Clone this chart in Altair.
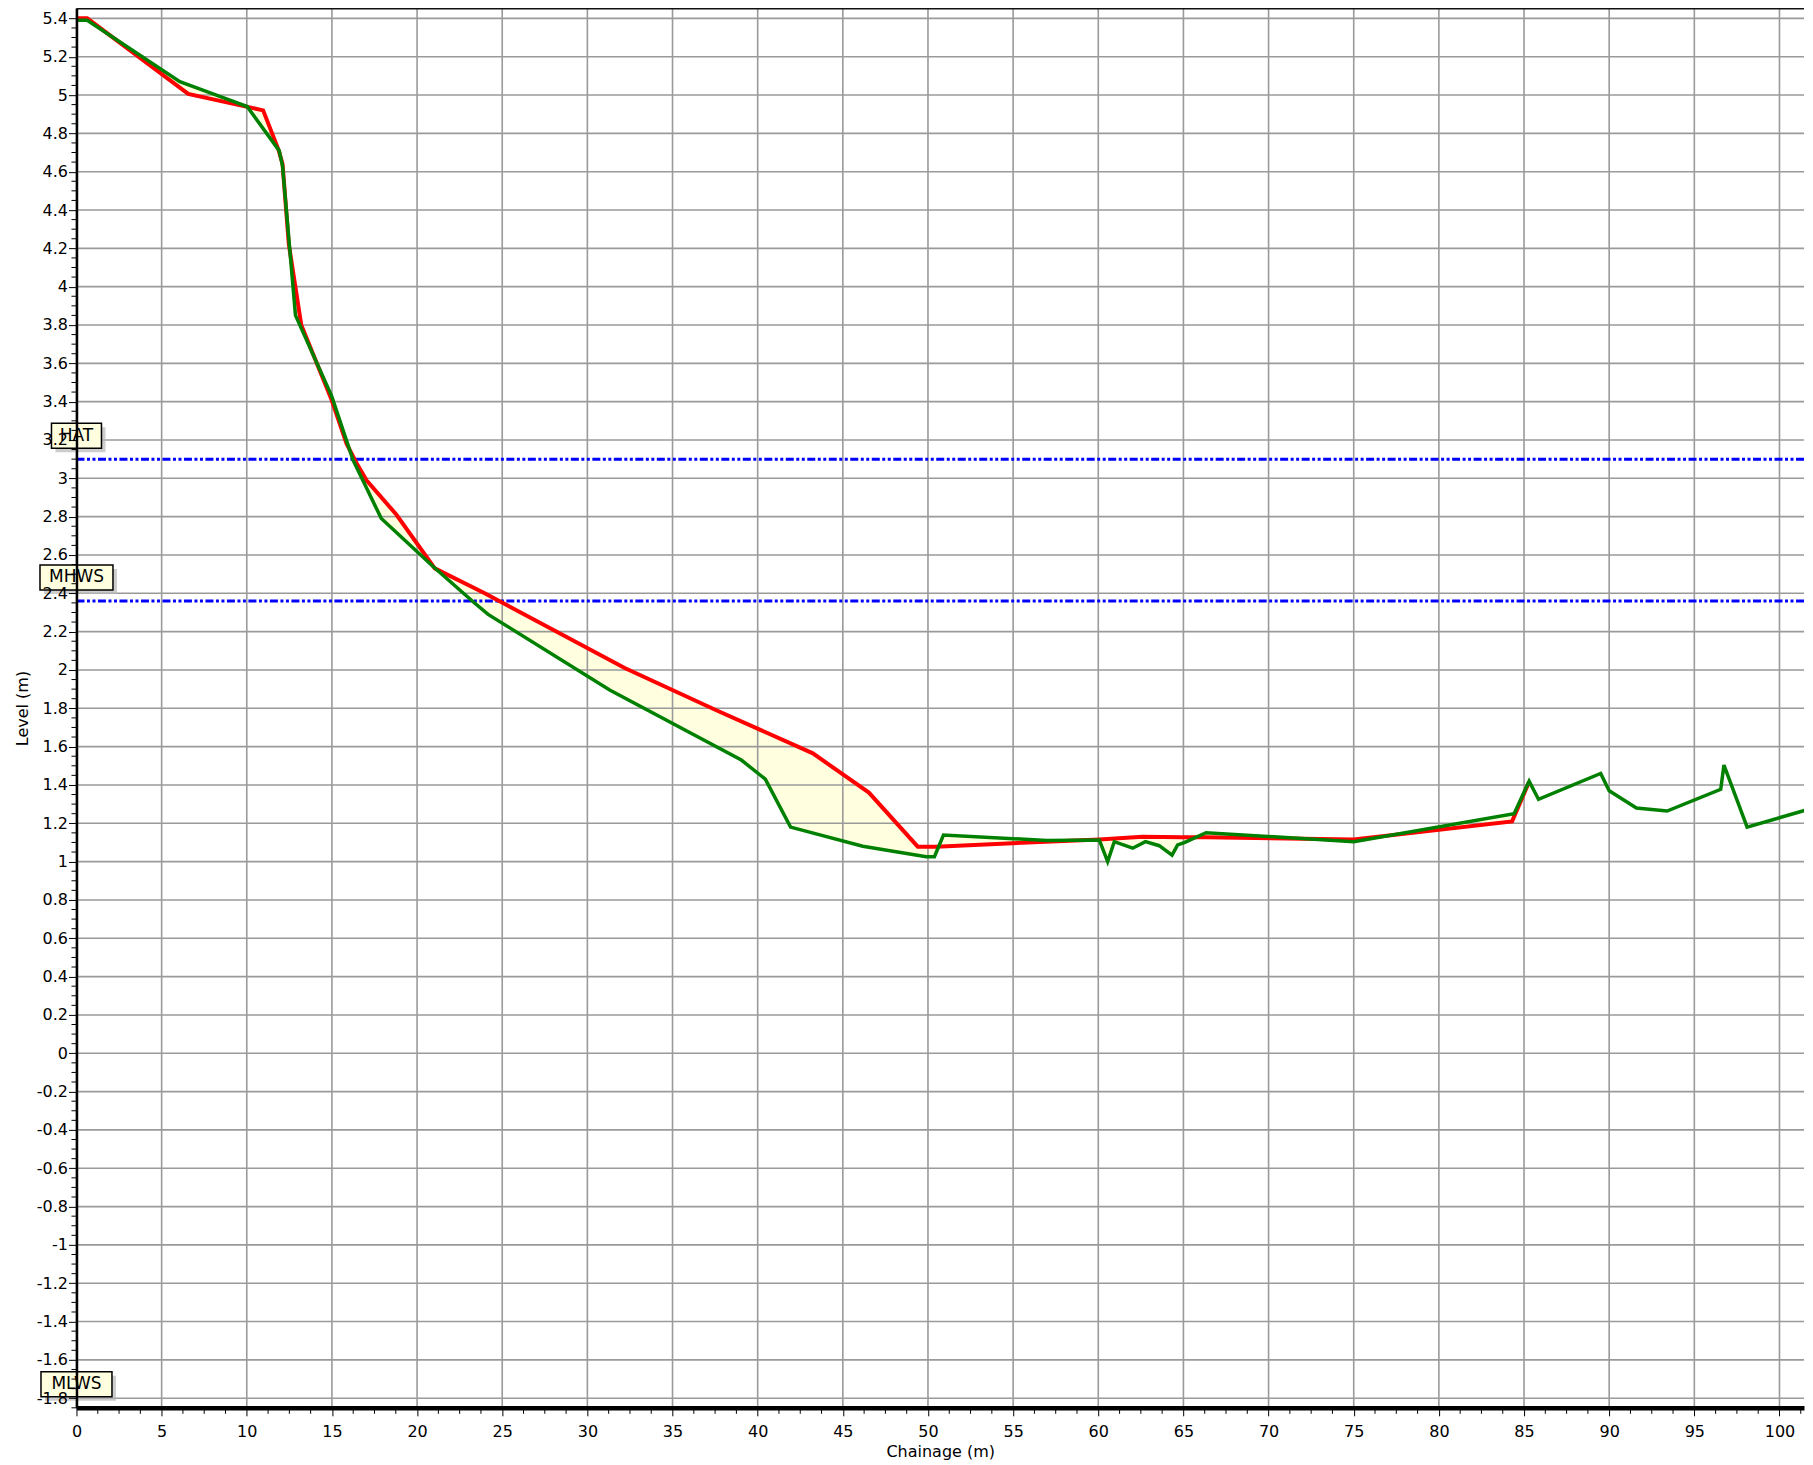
import altair as alt
import numpy as np
import pandas as pd

# ---------------- data ----------------
red_x = [0, 0.63, 6.56, 10.96, 11.88, 12.1, 12.47, 13.2, 14.98, 15.86, 16.44, 17.03,
         18.79, 21.04, 23.97, 32.19, 37.57, 43.24, 46.53, 49.4, 50.48, 60.06, 62.6,
         64.95, 66.33, 75.0, 84.3, 85.3]
red_y = [5.40, 5.40, 5.006, 4.92, 4.71, 4.64, 4.22, 3.80, 3.41, 3.18, 3.08, 2.99,
         2.81, 2.53, 2.40, 2.01, 1.79, 1.565, 1.36, 1.078, 1.078, 1.116, 1.13,
         1.127, 1.127, 1.116, 1.21, 1.417]

green_x = [0, 0.63, 6.07, 8.81, 10.02, 11.9, 12.1, 12.86, 14.98, 16.24, 17.9, 20.94,
           23.29, 24.17, 31.31, 39.04, 40.45, 41.93, 46.17, 49.9, 50.38, 50.91, 57.0,
           60.06, 60.55, 60.94, 62.02, 62.77, 63.58, 64.33, 64.66, 65.05, 66.33, 75.0,
           84.42, 85.3, 85.85, 89.5, 90.0, 91.6, 93.4, 96.55, 96.74, 98.1, 101.9]
green_y = [5.39, 5.39, 5.07, 4.98, 4.94, 4.71, 4.63, 3.85, 3.43, 3.095, 2.79, 2.54,
           2.356, 2.29, 1.895, 1.53, 1.43, 1.18, 1.08, 1.026, 1.026, 1.139, 1.11,
           1.113, 1.0, 1.104, 1.07, 1.104, 1.083, 1.034, 1.087, 1.099, 1.151, 1.104,
           1.25, 1.42, 1.325, 1.46, 1.37, 1.28, 1.264, 1.377, 1.504, 1.18, 1.278]

level_names = ["HAT", "MHWS", "MLWS"]
level_values = [3.1, 2.36, -1.85]

x_ticks = list(range(0, 101, 5))
y_ticks = [round(-1.8 + 0.2 * i, 1) for i in range(37)]
x_minor = [round(i * 1.25, 2) for i in range(82) if (i * 1.25) % 5 != 0]
y_minor = [round(-1.85 + 0.05 * i, 2) for i in range(146)]
y_minor = [v for v in y_minor if abs(round(v / 0.2) * 0.2 - v) > 1e-6]

# ---------------- layout ----------------
X_MIN, X_MAX = 0, 101.44
Y_MIN, Y_MAX = -1.85, 5.453
W, H = 1728, 1400
FONT = "DejaVu Sans"

xscale = alt.Scale(domain=[X_MIN, X_MAX], nice=False, zero=False)
yscale = alt.Scale(domain=[Y_MIN, Y_MAX], nice=False, zero=False)

red_df = pd.DataFrame({"x": red_x, "y": red_y})
green_df = pd.DataFrame({"x": green_x, "y": green_y})

# band between the two profiles (on the union of their chainages)
xs = sorted(set([v for v in red_x + green_x if v <= max(red_x)]))
band_df = pd.DataFrame({
    "x": xs,
    "top": np.interp(xs, red_x, red_y),
    "bot": np.interp(xs, green_x, green_y),
})

levels_df = pd.DataFrame({"name": level_names, "level": level_values,
                          "x0": [X_MIN] * 3, "x1": [X_MAX] * 3})

xax = alt.Axis(values=x_ticks, grid=False, domainColor="black", domainWidth=4.5,
               tickColor="black", tickSize=8, tickWidth=1, labelFont=FONT,
               labelFontSize=16, labelColor="black", labelPadding=8,
               labelExpr="'' + datum.value", labelFlush=False, labelOverlap=False,
               title="Chainage (m)", titleFont=FONT, titleFontSize=16,
               titleFontWeight="normal", titleColor="black", titlePadding=4, zindex=1)
yax = alt.Axis(values=y_ticks, grid=False, domainColor="black", domainWidth=2.5,
               tickColor="black", tickSize=8, tickWidth=1, labelFont=FONT,
               labelFontSize=16, labelColor="black", labelPadding=1,
               labelExpr="'' + datum.value", labelFlush=False, labelOverlap=False,
               title="Level (m)", titleFont=FONT, titleFontSize=16,
               titleFontWeight="normal", titleColor="black", titlePadding=6, zindex=1)


def X(field):
    return alt.X(field, scale=xscale, axis=xax)


def Y(field):
    return alt.Y(field, scale=yscale, axis=yax)


band = alt.Chart(band_df).mark_area(color="#FFFFE0", opacity=1).encode(
    x=X("x:Q"), y=Y("top:Q"), y2="bot:Q")

GRID = "#9a9a9a"
vgrid = alt.Chart(pd.DataFrame({"v": x_ticks})).mark_rule(color=GRID, strokeWidth=1.6).encode(
    x=X("v:Q"), y=alt.value(0), y2=alt.value(H))
hgrid = alt.Chart(pd.DataFrame({"v": y_ticks})).mark_rule(color=GRID, strokeWidth=1.6).encode(
    y=Y("v:Q"), x=alt.value(0), x2=alt.value(W))

level_lines = alt.Chart(levels_df).mark_rule(
    color="#0000FF", strokeWidth=3, strokeDash=[8, 2.5, 3, 2.5, 3, 2.5]).encode(
    x=X("x0:Q"), x2="x1:Q", y=Y("level:Q"))

red_line = alt.Chart(red_df).mark_line(color="#FF0000", strokeWidth=4, clip=True).encode(
    x=X("x:Q"), y=Y("y:Q"), order="x:Q")
green_line = alt.Chart(green_df).mark_line(color="#008000", strokeWidth=3.5, clip=True).encode(
    x=X("x:Q"), y=Y("y:Q"), order="x:Q")

half_w = {"HAT": 25, "MHWS": 36.5, "MLWS": 35.5}
label_layers = []
for nm, lv in zip(level_names, level_values):
    d = pd.DataFrame({"name": [nm], "level": [lv], "x0": [X_MIN]})
    hw = half_w[nm]
    enc = dict(x=X("x0:Q"), x2="x0:Q", y=Y("level:Q"), y2="level:Q")
    shadow = alt.Chart(d).mark_rect(fill="#b8b8b8", opacity=0.7,
                                    xOffset=-hw + 4, x2Offset=hw + 4,
                                    yOffset=-32, y2Offset=-7).encode(**enc)
    box = alt.Chart(d).mark_rect(fill="#FFFFE0", stroke="black", strokeWidth=1.5,
                                 xOffset=-hw, x2Offset=hw,
                                 yOffset=-36, y2Offset=-11).encode(**enc)
    txt = alt.Chart(d).mark_text(font=FONT, fontSize=17, color="black", dy=-23.5,
                                 align="center", baseline="middle").encode(
        x=X("x0:Q"), y=Y("level:Q"), text="name:N")
    label_layers += [shadow, box, txt]

yminor = alt.Chart(pd.DataFrame({"v": y_minor})).mark_rule(color="black", strokeWidth=1).encode(
    y=Y("v:Q"), x=alt.value(-5), x2=alt.value(0))
xminor = alt.Chart(pd.DataFrame({"v": x_minor})).mark_rule(color="black", strokeWidth=1).encode(
    x=X("v:Q"), y=alt.value(H), y2=alt.value(H + 6))

top_frame = alt.Chart(pd.DataFrame({"v": [Y_MAX]})).mark_rule(color="#111111", strokeWidth=2.5).encode(
    y=Y("v:Q"), x=alt.value(0), x2=alt.value(W))

chart = alt.layer(
    band, vgrid, hgrid, level_lines, red_line, green_line, *label_layers,
    yminor, xminor, top_frame
).properties(
    width=W, height=H,
    autosize=alt.AutoSizeParams(type="none"),
    padding={"left": 68.5, "top": 0, "right": 1, "bottom": 52},
    background="white",
).configure_view(stroke=None)

chart.save("out.html", embed_options={"renderer": "svg", "actions": False})
